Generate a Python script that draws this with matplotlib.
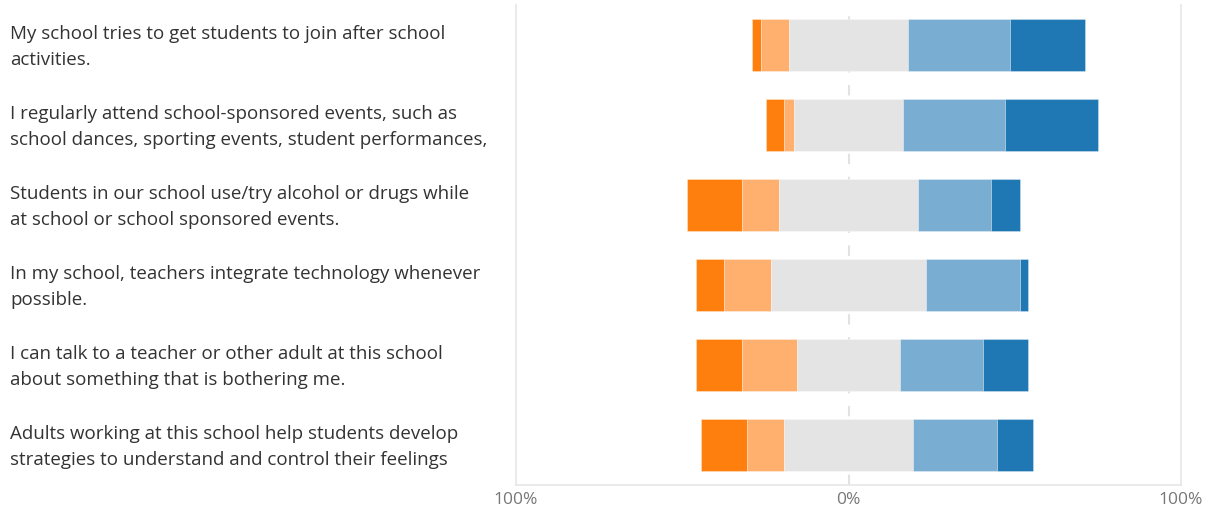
import matplotlib
matplotlib.use("Agg")
import matplotlib.pyplot as plt
import numpy as np

questions = [
    "My school tries to get students to join after school\nactivities.",
    "I regularly attend school-sponsored events, such as\nschool dances, sporting events, student performances,",
    "Students in our school use/try alcohol or drugs while\nat school or school sponsored events.",
    "In my school, teachers integrate technology whenever\npossible.",
    "I can talk to a teacher or other adult at this school\nabout something that is bothering me.",
    "Adults working at this school help students develop\nstrategies to understand and control their feelings",
]
strongly_disagree = [2.6, 5.5, 16.5, 8.5, 14.0, 14.0]
disagree = [8.4, 3.0, 11.0, 14.0, 16.4, 11.0]
neutral = [36.0, 32.9, 41.9, 46.9, 31.0, 38.9]
agree = [30.6, 30.6, 22.0, 28.1, 25.1, 25.1]
strongly_agree = [22.5, 28.0, 8.5, 2.4, 13.4, 10.9]

tick_values = [-100, 0, 100]
tick_labels = ["100%", "0%", "100%"]

colors = ["#ff7f0e", "#ffb06e", "#e4e4e4", "#7aadd2", "#1f77b4"]

fig = plt.figure(figsize=(12.19, 5.12), dpi=100)
ax = fig.add_axes([516 / 1219, 1 - 485 / 512, 665 / 1219, 480 / 512])

series = [strongly_disagree, disagree, neutral, agree, strongly_agree]
y = np.arange(len(questions))
left = -(np.array(strongly_disagree) + np.array(disagree) + np.array(neutral) / 2)
ax.axvline(0, color="#e2e2e2", lw=1.5, ls=(0, (5, 6)), zorder=0)
for vals, c in zip(series, colors):
    vals = np.array(vals)
    ax.barh(y, vals, left=left, height=0.66, color=c,
            edgecolor=(1, 1, 1, 0.3), linewidth=0.7, zorder=2)
    left = left + vals

ax.set_xlim(-100, 100)
ax.set_ylim(5.5, -0.5)
ax.set_yticks([])
ax.set_xticks(tick_values)
ax.set_xticklabels(tick_labels, fontsize=12.5, color="#777777", family="Open Sans")
ax.tick_params(axis="x", length=0, pad=5)
for s in ["left", "right", "bottom"]:
    ax.spines[s].set_color("#e6e6e6")
    ax.spines[s].set_linewidth(1.2)
ax.spines["top"].set_visible(False)

for i, q in enumerate(questions):
    yy_fig = 1 - (47 + 80 * i) / 512
    fig.text(10 / 1219, yy_fig, q, ha="left", va="center", fontsize=13.5,
             color="#333333", family="Open Sans", linespacing=1.62)

fig.savefig("out.png", dpi=100)
